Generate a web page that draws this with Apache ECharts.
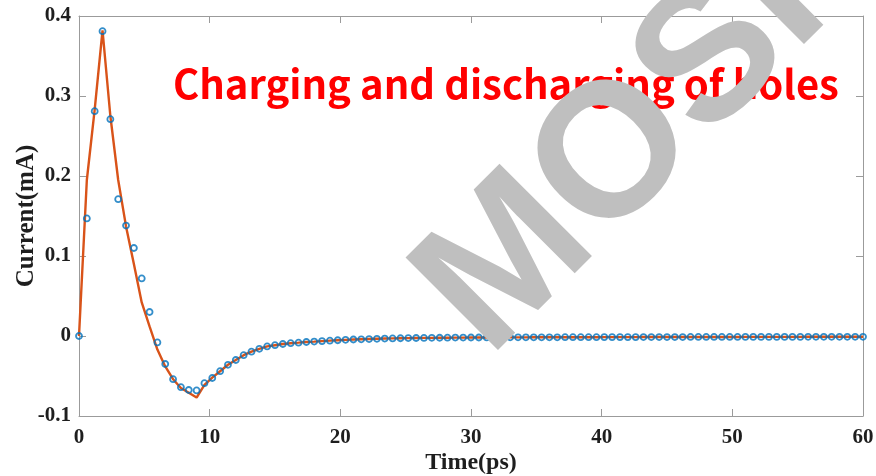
<!DOCTYPE html>
<html>
<head>
<meta charset="utf-8">
<script src="https://cdn.jsdelivr.net/npm/echarts@6/dist/echarts.min.js"></script>
<style>
  html, body { margin: 0; padding: 0; background: #fff; }
  #chart { width: 876px; height: 476px; }
</style>
</head>
<body>
<div id="chart"></div>
<script>
// Sample times (ps) shared by the simulated points and the fitted curve
var times = [
  0, 0.6, 1.2, 1.8, 2.4, 3.0, 3.6, 4.2, 4.8, 5.4,
  6.0, 6.6, 7.2, 7.8, 8.4, 9.0, 9.6, 10.2, 10.8, 11.4,
  12.0, 12.6, 13.2, 13.8, 14.4, 15.0, 15.6, 16.2, 16.8, 17.4,
  18.0, 18.6, 19.2, 19.8, 20.4, 21.0, 21.6, 22.2, 22.8, 23.4,
  24.0, 24.6, 25.2, 25.8, 26.4, 27.0, 27.6, 28.2, 28.8, 29.4,
  30.0, 30.6, 31.2, 31.8, 32.4, 33.0, 33.6, 34.2, 34.8, 35.4,
  36.0, 36.6, 37.2, 37.8, 38.4, 39.0, 39.6, 40.2, 40.8, 41.4,
  42.0, 42.6, 43.2, 43.8, 44.4, 45.0, 45.6, 46.2, 46.8, 47.4,
  48.0, 48.6, 49.2, 49.8, 50.4, 51.0, 51.6, 52.2, 52.8, 53.4,
  54.0, 54.6, 55.2, 55.8, 56.4, 57.0, 57.6, 58.2, 58.8, 59.4,
  60.0
];

// Simulated current (mA), drawn as open circles
var simCurrent = [
  0, 0.147, 0.281, 0.381, 0.271, 0.171, 0.138, 0.110, 0.072, 0.030,
  -0.008, -0.035, -0.054, -0.064, -0.0675, -0.068, -0.059, -0.0525, -0.044, -0.036,
  -0.030, -0.024, -0.0196, -0.016, -0.013, -0.0115, -0.010, -0.009, -0.0083, -0.0075,
  -0.007, -0.0064, -0.0058, -0.0053, -0.0048, -0.0044, -0.0041, -0.0038, -0.0035, -0.0032,
  -0.0030, -0.0028, -0.0026, -0.0025, -0.0024, -0.0023, -0.0022, -0.0021, -0.0020, -0.0020,
  -0.0019, -0.0019, -0.0018, -0.0018, -0.0018, -0.0017, -0.0017, -0.0017, -0.0016, -0.0016,
  -0.0016, -0.0016, -0.0015, -0.0015, -0.0015, -0.0015, -0.0015, -0.0014, -0.0014, -0.0014,
  -0.0014, -0.0014, -0.0013, -0.0013, -0.0013, -0.0013, -0.0013, -0.0013, -0.0012, -0.0012,
  -0.0012, -0.0012, -0.0012, -0.0012, -0.0012, -0.0011, -0.0011, -0.0011, -0.0011, -0.0011,
  -0.0011, -0.0011, -0.0011, -0.0010, -0.0010, -0.0010, -0.0010, -0.0010, -0.0010, -0.0010,
  -0.0010
];

// Model current (mA), drawn as the solid curve
var modelCurrent = [
  0, 0.195, 0.283, 0.382, 0.275, 0.195, 0.137, 0.090, 0.042, 0.012,
  -0.017, -0.038, -0.054, -0.065, -0.071, -0.077, -0.061, -0.052, -0.044, -0.036,
  -0.030, -0.024, -0.0196, -0.016, -0.013, -0.0115, -0.010, -0.009, -0.0083, -0.0075,
  -0.007, -0.0064, -0.0058, -0.0053, -0.0048, -0.0044, -0.0041, -0.0038, -0.0035, -0.0032,
  -0.0030, -0.0028, -0.0026, -0.0025, -0.0024, -0.0023, -0.0022, -0.0021, -0.0020, -0.0020,
  -0.0019, -0.0019, -0.0018, -0.0018, -0.0018, -0.0017, -0.0017, -0.0017, -0.0016, -0.0016,
  -0.0016, -0.0016, -0.0015, -0.0015, -0.0015, -0.0015, -0.0015, -0.0014, -0.0014, -0.0014,
  -0.0014, -0.0014, -0.0013, -0.0013, -0.0013, -0.0013, -0.0013, -0.0013, -0.0012, -0.0012,
  -0.0012, -0.0012, -0.0012, -0.0012, -0.0012, -0.0011, -0.0011, -0.0011, -0.0011, -0.0011,
  -0.0011, -0.0011, -0.0011, -0.0010, -0.0010, -0.0010, -0.0010, -0.0010, -0.0010, -0.0010,
  -0.0010
];

var xTicks = { min: 0, max: 60, step: 10 };
var yTicks = { min: -0.1, max: 0.4, step: 0.1 };

var titleText = 'Charging and discharging of holes';
var stampText = 'MOSFET';
var xName = 'Time(ps)';
var yName = 'Current(mA)';

function pairs(xs, ys) {
  return xs.map(function (x, i) { return [x, ys[i]]; });
}

var axisColor = '#9b9b9b';
var serif = '"Liberation Serif", "Times New Roman", serif';
var labelFont = {
  fontFamily: serif,
  fontWeight: 'bold',
  fontSize: 21,
  color: '#1e1e1e'
};

// Box-style axis: line on the frame edge, ticks pointing into the plot
function frameAxis(extra) {
  return Object.assign({
    type: 'value',
    axisLine: { show: true, onZero: false, lineStyle: { color: axisColor, width: 1 } },
    axisTick: { show: true, inside: true, length: 7, lineStyle: { color: axisColor } },
    splitLine: { show: false }
  }, extra);
}

var chart = echarts.init(document.getElementById('chart'), null, { renderer: 'canvas' });

chart.setOption({
  animation: false,
  backgroundColor: '#ffffff',
  grid: {
    left: 79, right: 13, top: 16, bottom: 60,
    containLabel: false,
    outerBoundsMode: 'none'
  },
  xAxis: [
    frameAxis({
      position: 'bottom',
      min: xTicks.min, max: xTicks.max, interval: xTicks.step,
      axisLabel: Object.assign({ margin: 11 }, labelFont),
      name: xName,
      nameLocation: 'middle',
      nameGap: 35,
      nameMoveOverlap: false,
      nameTextStyle: {
        fontFamily: serif, fontWeight: 'bold', fontSize: 24, color: '#1e1e1e'
      }
    }),
    frameAxis({
      position: 'top',
      min: xTicks.min, max: xTicks.max, interval: xTicks.step,
      axisLabel: { show: false }
    })
  ],
  yAxis: [
    frameAxis({
      position: 'left',
      min: yTicks.min, max: yTicks.max, interval: yTicks.step,
      axisLabel: Object.assign({ margin: 8 }, labelFont),
      name: yName,
      nameLocation: 'middle',
      nameRotate: 90,
      nameGap: 40,
      nameMoveOverlap: false,
      nameTextStyle: {
        fontFamily: serif, fontWeight: 'bold', fontSize: 25, color: '#1e1e1e'
      }
    }),
    frameAxis({
      position: 'right',
      min: yTicks.min, max: yTicks.max, interval: yTicks.step,
      axisLabel: { show: false }
    })
  ],
  series: [
    {
      name: 'model',
      type: 'line',
      data: pairs(times, modelCurrent),
      showSymbol: false,
      smooth: false,
      lineStyle: { color: '#D95319', width: 2.4 },
      z: 2
    },
    {
      name: 'simulation',
      type: 'scatter',
      data: pairs(times, simCurrent),
      symbol: 'circle',
      symbolSize: 6,
      itemStyle: { color: 'rgba(0,0,0,0)', borderColor: '#0072BD', borderWidth: 1.8 },
      z: 3
    }
  ],
  graphic: [
    {
      type: 'text',
      x: 173,
      y: 64,
      z: 50,
      style: {
        text: titleText,
        fill: '#ff0000',
        font: 'bold 40px "Noto Sans CJK SC", "Noto Sans", sans-serif',
        align: 'left',
        verticalAlign: 'top'
      }
    },
    {
      type: 'text',
      x: 452,
      y: 322,
      rotation: Math.PI / 4,
      z: 100,
      style: {
        text: stampText,
        fill: '#bfbfbf',
        font: 'bold 190px "Liberation Sans", Arial, sans-serif',
        align: 'left',
        verticalAlign: 'middle'
      }
    }
  ]
});
</script>
</body>
</html>
